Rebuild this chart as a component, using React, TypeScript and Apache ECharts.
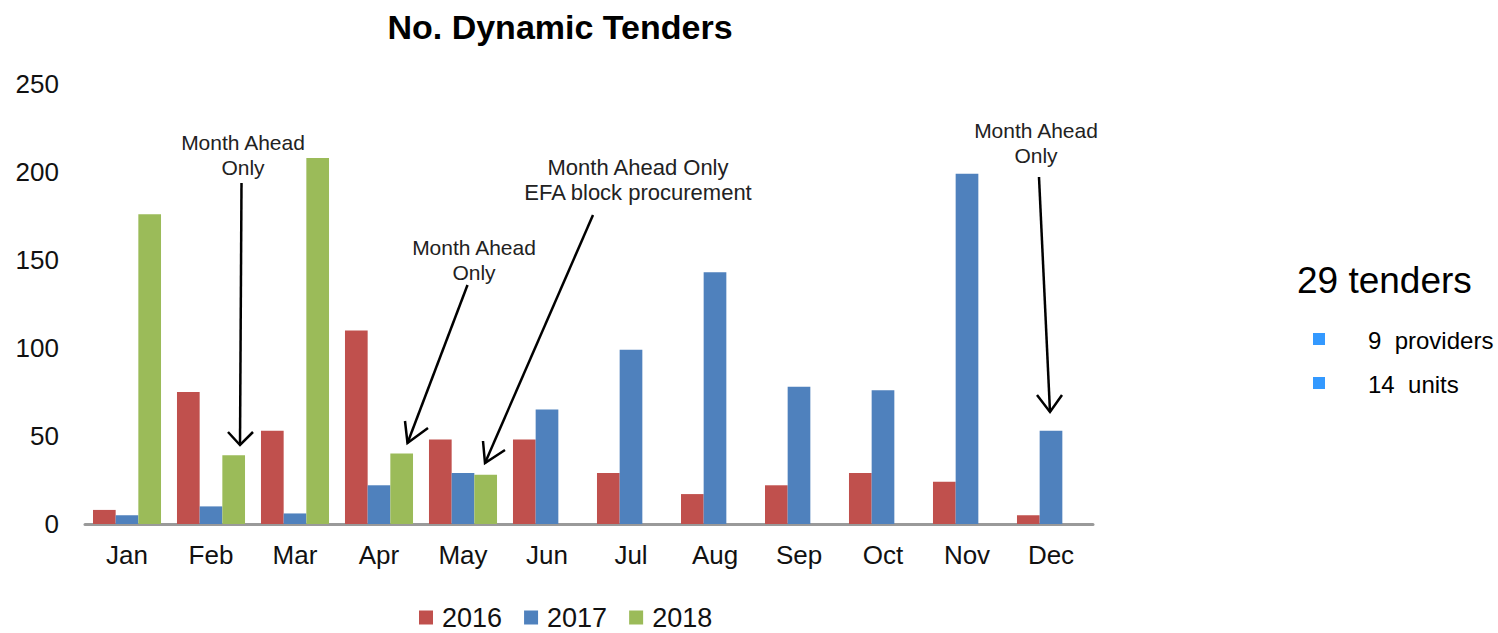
import React, { useEffect, useRef } from "react";
import * as echarts from "echarts";

const months = ["Jan", "Feb", "Mar", "Apr", "May", "Jun", "Jul", "Aug", "Sep", "Oct", "Nov", "Dec"];
const years = ["2016", "2017", "2018"];
const values2016 = [8, 75, 53, 110, 48, 48, 29, 17, 22, 29, 24, 5];
const values2017 = [5, 10, 6, 22, 29, 65, 99, 143, 78, 76, 199, 53];
const values2018: (number | null)[] = [176, 39, 208, 40, 28, null, null, null, null, null, null, null];
const yTicks = { min: 0, max: 250, interval: 50 };
const colors = ["#C0504D", "#4F81BD", "#9BBB59"];
const titleText = "No. Dynamic Tenders";
const sideTitle = "29 tenders";
const sideItems = ["9  providers", "14  units"];

const FONT = "'Liberation Sans', Arial, Helvetica, sans-serif";

function arrow(x1: number, y1: number, x2: number, y2: number, wingA: [number, number], wingB: [number, number]) {
  const st = { stroke: "#000", lineWidth: 2.5, fill: null as any };
  return [
    { type: "line", shape: { x1, y1, x2, y2 }, style: st, silent: true },
    { type: "polyline", shape: { points: [wingA, [x2, y2], wingB] }, style: st, silent: true },
  ];
}

function label(x: number, y: number, text: string, size = 21) {
  return {
    type: "text",
    x,
    y,
    style: {
      text,
      fill: "#222",
      font: `${size}px ${FONT}`,
      textAlign: "center",
      textVerticalAlign: "middle",
      lineHeight: 25,
    },
    silent: true,
  };
}

export default function App() {
  const ref = useRef<HTMLDivElement>(null);
  useEffect(() => {
    if (!ref.current) return;
    const chart = echarts.init(ref.current, null, { renderer: "svg" });
    const seriesData = [values2016, values2017, values2018];
    chart.setOption({
      animation: false,
      backgroundColor: "#ffffff",
      grid: { left: 85, right: 405, top: 84, bottom: 109, containLabel: false },
      xAxis: {
        type: "category",
        data: months,
        axisLine: { show: true, lineStyle: { color: "#9a9a9a", width: 3 } },
        axisTick: { show: false },
        axisLabel: { color: "#111", fontSize: 26, fontFamily: FONT, margin: 18 },
      },
      yAxis: {
        type: "value",
        min: yTicks.min,
        max: yTicks.max,
        interval: yTicks.interval,
        axisLine: { show: false },
        axisTick: { show: false },
        splitLine: { show: false },
        axisLabel: { color: "#111", fontSize: 26, fontFamily: FONT, margin: 26 },
      },
      legend: {
        data: years,
        left: 419,
        top: 604,
        padding: 0,
        itemWidth: 14,
        itemHeight: 14,
        itemGap: 22,
        icon: "rect",
        textStyle: { fontSize: 27, fontFamily: FONT, color: "#111", padding: [0, 0, 0, 4] },
      },
      series: years.map((y, i) => ({
        name: y,
        type: "bar",
        data: seriesData[i],
        barGap: "0%",
        barCategoryGap: "19%",
        itemStyle: { color: colors[i] },
      })),
      graphic: [
        {
          type: "text",
          x: 560,
          y: 27,
          style: {
            text: titleText,
            fill: "#000",
            font: `bold 34px ${FONT}`,
            textAlign: "center",
            textVerticalAlign: "middle",
          },
        },
        label(243, 155, "Month Ahead\nOnly"),
        ...arrow(241.5, 183, 240, 445, [228, 432], [253, 432]),
        label(474, 260, "Month Ahead\nOnly"),
        ...arrow(467.5, 285, 407.5, 443, [405, 421], [428, 428]),
        label(638, 180, "Month Ahead Only\nEFA block procurement", 22),
        ...arrow(593, 215, 485, 463, [483, 441], [505, 450]),
        label(1036, 143, "Month Ahead\nOnly"),
        ...arrow(1039, 177, 1050, 412, [1037, 395], [1062, 395]),
        {
          type: "text",
          x: 1297,
          y: 280,
          style: {
            text: sideTitle,
            fill: "#000",
            font: `37px ${FONT}`,
            textAlign: "left",
            textVerticalAlign: "middle",
          },
        },
        ...sideItems.flatMap((t, i) => [
          {
            type: "rect",
            shape: { x: 1313, y: 333 + i * 44, width: 12, height: 12 },
            style: { fill: "#3399FF" },
          },
          {
            type: "text",
            x: 1368,
            y: 340 + i * 44,
            style: {
              text: t,
              fill: "#000",
              font: `24px ${FONT}`,
              textAlign: "left",
              textVerticalAlign: "middle",
            },
          },
        ]),
      ],
    });
    return () => chart.dispose();
  }, []);
  return (
    <div
      ref={ref}
      style={{ position: "fixed", left: 0, top: 0, width: 1498, height: 633, background: "#fff" }}
    />
  );
}
